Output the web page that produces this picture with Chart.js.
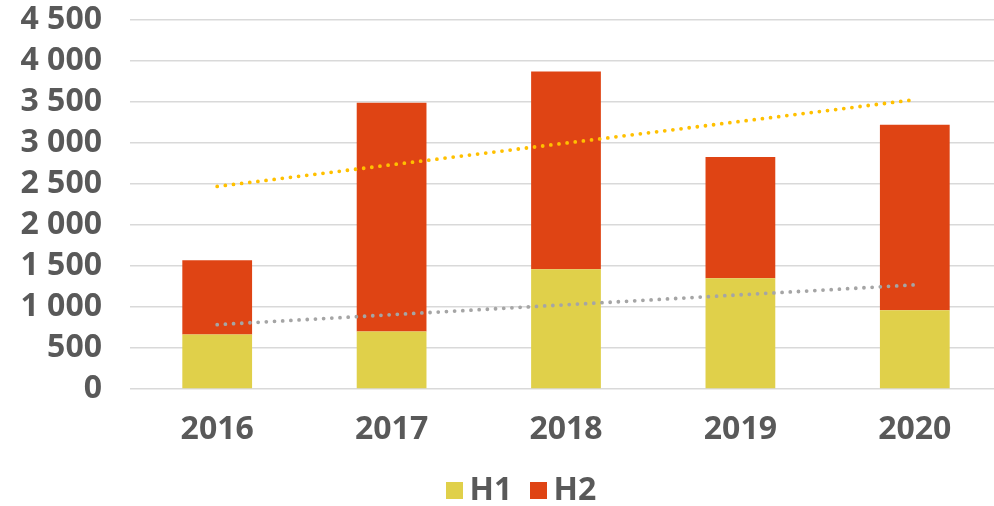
<!DOCTYPE html>
<html>
<head>
<meta charset="utf-8">
<script src="https://cdn.jsdelivr.net/npm/chart.js@4"></script>
<style>
  html, body { margin: 0; padding: 0; background: #fff; overflow: hidden; width: 994px; height: 506px; }
  #wrap { position: relative; width: 1002px; height: 506px; }
  canvas { position: absolute; left: 0; top: 0; }
  .lg-box { position: absolute; width: 17px; height: 17px; top: 482px; }
  .lg-txt { position: absolute; top: 472px; font-family: "Open Sans", sans-serif; font-weight: bold; font-size: 32px; line-height: 32px; color: #595959; white-space: nowrap; }
</style>
</head>
<body>
<div id="wrap">
  <canvas id="c" width="1002" height="506"></canvas>
  <div id="legend"></div>
</div>
<script>
// ---- data ----
const categories = ['2016', '2017', '2018', '2019', '2020'];
const seriesNames = ['H1', 'H2'];
const h1Values = [665, 700, 1460, 1350, 960];
const h2Values = [905, 2790, 2412, 1480, 2262];
const trendTotal = [2470, null, null, null, 3528];
const trendH1 = [785, null, null, null, 1270];
const yTickValues = [0, 500, 1000, 1500, 2000, 2500, 3000, 3500, 4000, 4500];
const yTickLabels = ['0', '500', '1 000', '1 500', '2 000', '2 500', '3 000', '3 500', '4 000', '4 500'];

const colH1 = '#E0D04A';
const colH2 = '#DF4414';
const FONT = { family: '"Open Sans", sans-serif', weight: 'bold', size: 32 };
const textColor = '#595959';

const ctx = document.getElementById('c').getContext('2d');
new Chart(ctx, {
  type: 'bar',
  data: {
    labels: categories,
    datasets: [
      { type: 'line', label: 'trendTotal', data: trendTotal, stack: 't1', spanGaps: true,
        borderColor: '#FFC000', borderWidth: 3.8, borderDash: [0, 8.2], borderCapStyle: 'round',
        pointRadius: 0, fill: false, order: 0 },
      { type: 'line', label: 'trendH1', data: trendH1, stack: 't2', spanGaps: true,
        borderColor: '#A5A5A5', borderWidth: 3.8, borderDash: [0, 8.2], borderCapStyle: 'round',
        pointRadius: 0, fill: false, order: 0 },
      { label: seriesNames[0], data: h1Values, backgroundColor: colH1, stack: 'b', order: 1,
        barPercentage: 0.4, categoryPercentage: 1 },
      { label: seriesNames[1], data: h2Values, backgroundColor: colH2, stack: 'b', order: 1,
        barPercentage: 0.4, categoryPercentage: 1 }
    ]
  },
  options: {
    responsive: false,
    animation: false,
    layout: { padding: { top: 20, right: 0, bottom: 57, left: 10 } },
    plugins: { legend: { display: false }, tooltip: { enabled: false } },
    scales: {
      x: {
        stacked: true,
        grid: { display: false },
        border: { display: false },
        ticks: { color: textColor, font: FONT, padding: 14 },
        afterFit(scale) { scale.height = 60; }
      },
      y: {
        stacked: true,
        min: 0, max: 4500,
        afterBuildTicks(scale) { scale.ticks = yTickValues.map(v => ({ value: v })); },
        afterFit(scale) { scale.width = 120; scale.paddingTop = 0; scale.paddingBottom = 0; },
        grid: { color: '#D9D9D9', lineWidth: 1.6, drawTicks: false },
        border: { display: false },
        ticks: {
          color: textColor, font: FONT, padding: 28, autoSkip: false,
          callback: (v) => yTickLabels[yTickValues.indexOf(v)]
        }
      }
    }
  }
});

// legend (HTML, real text)
const legend = document.getElementById('legend');
const lgPos = [{ box: 446, txt: 469.5 }, { box: 530, txt: 553.5 }];
[colH1, colH2].forEach((c, i) => {
  const b = document.createElement('div');
  b.className = 'lg-box'; b.style.left = lgPos[i].box + 'px'; b.style.background = c;
  const t = document.createElement('div');
  t.className = 'lg-txt'; t.style.left = lgPos[i].txt + 'px'; t.textContent = seriesNames[i];
  legend.appendChild(b); legend.appendChild(t);
});
</script>
</body>
</html>
